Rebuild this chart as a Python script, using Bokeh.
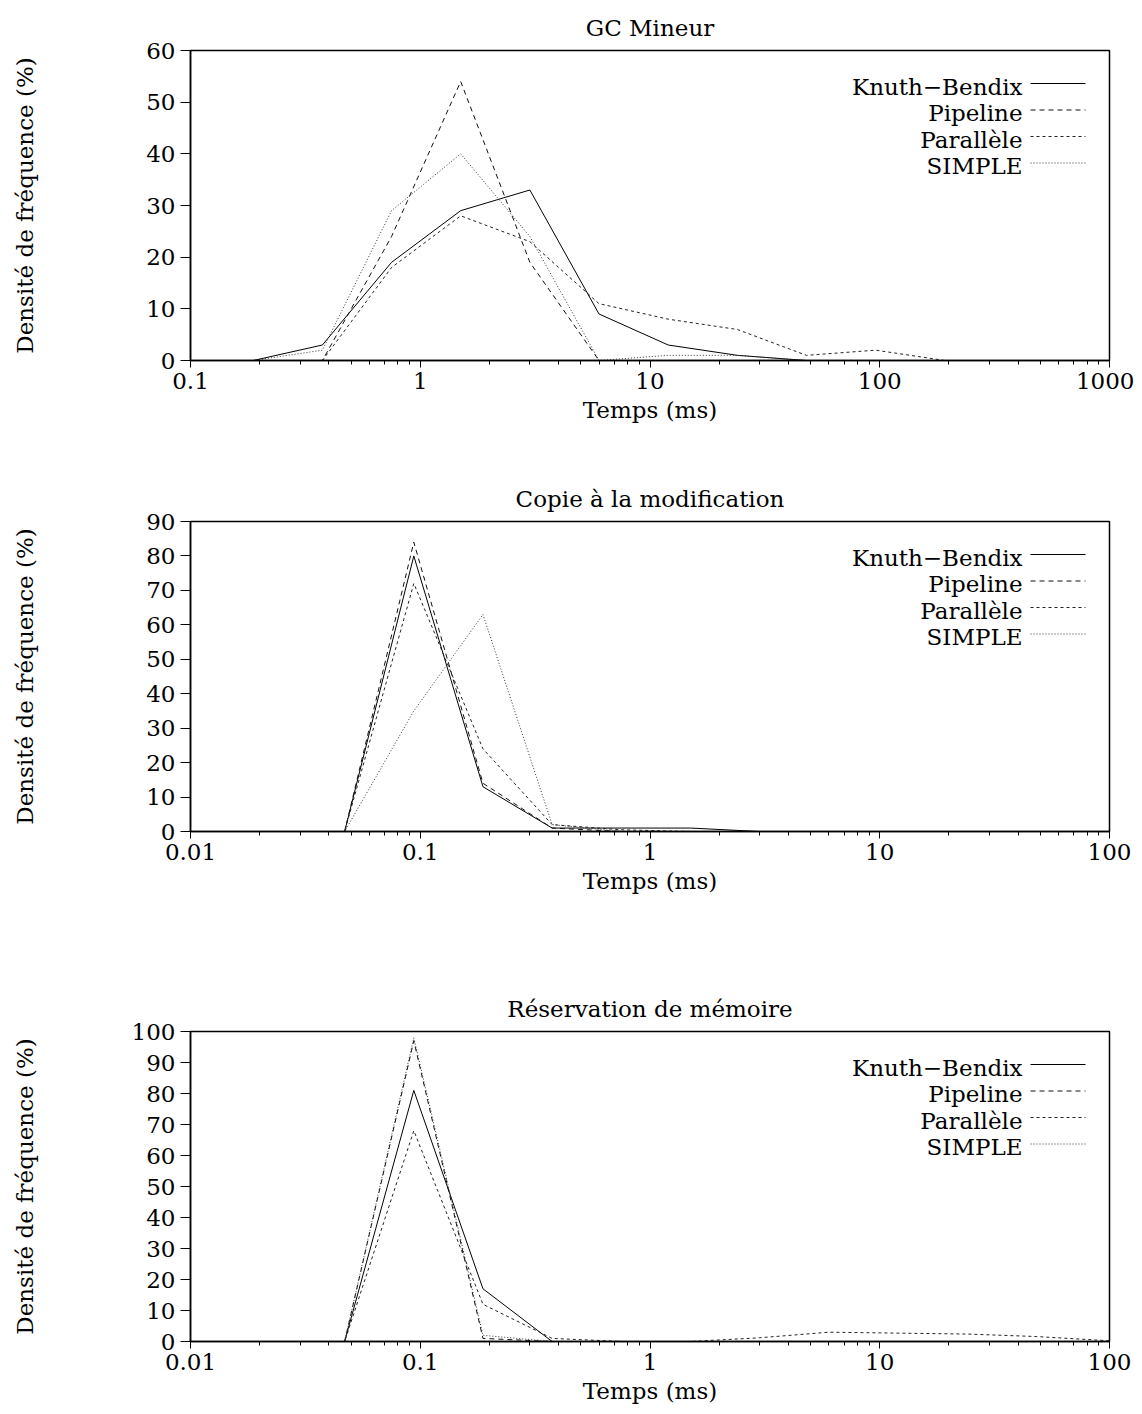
from bokeh.plotting import figure
from bokeh.layouts import column
from bokeh.models import LogTicker, SingleIntervalTicker, NumeralTickFormatter, Label, Arrow, Range1d
from bokeh.embed import file_html
from bokeh.resources import INLINE

FONT = "DejaVu Serif"
FS = "23px"

series_names = ["Knuth\u2212Bendix", "Pipeline", "Parall\u00e8le", "SIMPLE"]
dashes = ["solid", "5 4", "3 3", "1 2"]
colors = ["#000000", "#111111", "#222222", "#333333"]

# Panel 1 : GC Mineur
gc_t = [0.09375, 0.1875, 0.375, 0.75, 1.5, 3, 6, 12, 24, 48, 96, 192, 384, 768, 1536]
gc_kb = [0, 0, 3, 19, 29, 33, 9, 3, 1, 0, 0, 0, 0, 0, 0]
gc_pipe = [0, 0, 0, 24, 54, 19, 0, 0, 0, 0, 0, 0, 0, 0, 0]
gc_par = [0, 0, 0, 18, 28, 23, 11, 8, 6, 1, 2, 0, 0, 0, 0]
gc_simple = [0, 0, 2, 29, 40, 24, 0, 1, 1, 0, 0, 0, 0, 0, 0]

# Panel 2 : Copie à la modification
cow_t = [0.005859375, 0.01171875, 0.0234375, 0.046875, 0.09375, 0.1875, 0.375, 0.75, 1.5, 3, 6, 12, 24, 48, 96, 192]
cow_kb = [0, 0, 0, 0, 80, 13, 1, 1, 1, 0, 0, 0, 0, 0, 0, 0]
cow_pipe = [0, 0, 0, 0, 84, 14, 1, 0, 0, 0, 0, 0, 0, 0, 0, 0]
cow_par = [0, 0, 0, 0, 72, 24, 2, 0.5, 0, 0, 0, 0, 0, 0, 0, 0]
cow_simple = [0, 0, 0, 0, 35, 63, 2, 0, 0, 0, 0, 0, 0, 0, 0, 0]

# Panel 3 : Réservation de mémoire
alloc_t = [0.005859375, 0.01171875, 0.0234375, 0.046875, 0.09375, 0.1875, 0.375, 0.75, 1.5, 3, 6, 12, 24, 48, 96, 192]
alloc_kb = [0, 0, 0, 0, 81, 17, 0, 0, 0, 0, 0, 0, 0, 0, 0, 0]
alloc_pipe = [0, 0, 0, 0, 97, 1, 0, 0, 0, 0, 0, 0, 0, 0, 0, 0]
alloc_par = [0, 0, 0, 0, 68, 12, 1, 0, 0, 1.2, 3, 2.7, 2.4, 1.6, 0.3, 0]
alloc_simple = [0, 0, 0, 0, 98, 2, 0, 0, 0, 0, 0, 0, 0, 0, 0, 0]

panels = [
    dict(title="GC Mineur", t=gc_t, ys=[gc_kb, gc_pipe, gc_par, gc_simple],
         xr=(0.1, 1000), ymax=60, bottom=111, standoff=105),
    dict(title="Copie \u00e0 la modification", t=cow_t, ys=[cow_kb, cow_pipe, cow_par, cow_simple],
         xr=(0.01, 100), ymax=90, bottom=150, standoff=105),
    dict(title="R\u00e9servation de m\u00e9moire", t=alloc_t, ys=[alloc_kb, alloc_pipe, alloc_par, alloc_simple],
         xr=(0.01, 100), ymax=100, bottom=64, standoff=91),
]

figs = []
for pd_ in panels:
    p = figure(x_axis_type="log", output_backend="svg", toolbar_location=None,
               frame_width=919, frame_height=310,
               min_border_left=190, min_border_right=25, min_border_top=50,
               min_border_bottom=pd_["bottom"],
               x_range=Range1d(*pd_["xr"]), y_range=Range1d(0, pd_["ymax"]))
    p.title.text = pd_["title"]
    p.title.align = "center"
    p.title.text_font = FONT
    p.title.text_font_size = FS
    p.title.text_font_style = "normal"
    p.title.text_color = "black"
    p.title.standoff = 20
    p.grid.visible = False
    p.outline_line_color = "black"
    p.outline_line_width = 1.5
    p.outline_line_alpha = 1
    p.background_fill_color = "white"
    p.border_fill_color = "white"

    p.xaxis.ticker = LogTicker(num_minor_ticks=10)
    p.xaxis.formatter = NumeralTickFormatter(format="0.[00]")
    p.yaxis.ticker = SingleIntervalTicker(interval=10, num_minor_ticks=0)
    p.xaxis.axis_label = "Temps (ms)"
    p.yaxis.axis_label = "Densit\u00e9 de fr\u00e9quence (%)"
    for ax in (p.xaxis[0], p.yaxis[0]):
        ax.axis_line_color = "black"
        ax.axis_line_width = 1.5
        ax.major_tick_line_color = "black"
        ax.minor_tick_line_color = "black"
        ax.major_tick_in = 0
        ax.minor_tick_out = 4
        ax.minor_tick_in = 0
        ax.major_label_text_font = FONT
        ax.major_label_text_font_size = FS
        ax.major_label_text_color = "black"
        ax.axis_label_text_font = FONT
        ax.axis_label_text_font_size = FS
        ax.axis_label_text_font_style = "normal"
        ax.axis_label_text_color = "black"
    p.xaxis.major_tick_out = 7
    p.yaxis.major_tick_out = 10
    p.xaxis.major_label_standoff = 5
    p.xaxis.axis_label_standoff = 5
    p.yaxis.major_label_standoff = 5
    p.yaxis.axis_label_standoff = pd_["standoff"]

    for name, ys, d, c in zip(series_names, pd_["ys"], dashes, colors):
        p.line(pd_["t"], ys, line_color=c, line_width=1, line_dash=d)

    # legend: label on the left, line sample on the right (screen units from frame)
    for i, (name, d, c) in enumerate(zip(series_names, dashes, colors)):
        yline = 310 - 33 - 26.5 * i
        p.add_layout(Label(x=832, y=yline - 3, x_units="screen", y_units="screen", text=name,
                           text_font=FONT, text_font_size=FS, text_align="right",
                           text_baseline="middle", text_color="black"))
        p.add_layout(Arrow(x_start=840, y_start=yline, x_end=895, y_end=yline,
                           start_units="screen", end_units="screen", end=None,
                           line_color=c, line_width=1, line_dash=d))
    figs.append(p)

layout = column(*figs, spacing=0)
open("out.html", "w").write(file_html(layout, INLINE))
